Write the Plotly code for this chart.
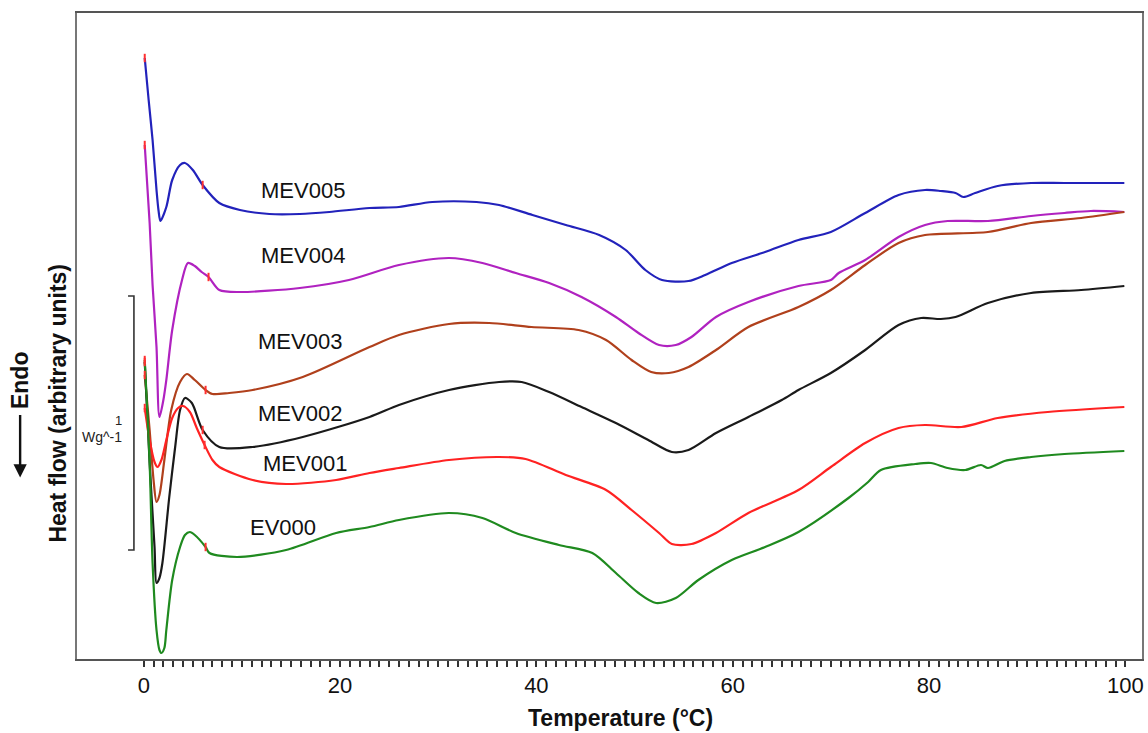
import plotly.graph_objects as go

# ---- data: temperature (°C) and heat flow (arbitrary units) ----
T_005 = [0.1, 0.5, 0.9, 1.3, 1.5, 1.7, 2.3, 2.9, 3.7, 4.2, 5.0, 6.0, 7.7, 9.8, 12.8, 15.9, 18.9, 23.0, 26.0, 29.4, 33.9, 36.2, 39.6, 43.0, 46.4, 49.1, 51.1, 52.8, 55.5, 57.2, 59.9, 63.3, 66.7, 70.0, 73.5, 76.9, 79.6, 81.2, 82.7, 83.5, 84.7, 87.0, 90.4, 93.8, 99.9]
Y_005 = [602, 560, 520, 470, 450, 439, 453, 480, 495, 497, 490, 475, 457, 450, 446, 446, 448, 452, 453, 458, 458, 455, 445, 435, 425, 410, 390, 380, 379, 385, 397, 408, 420, 428, 447, 465, 470, 469, 467, 463, 467, 474, 477, 477, 477]

T_004 = [0.1, 0.6, 0.9, 1.3, 1.6, 2.0, 2.3, 2.9, 3.9, 4.5, 5.2, 5.9, 6.6, 7.7, 9.8, 15.9, 20.9, 26.0, 31.1, 34.5, 37.9, 41.3, 44.6, 48.1, 50.4, 52.5, 54.2, 55.8, 58.3, 61.6, 66.7, 70.0, 70.8, 73.5, 76.9, 79.6, 81.9, 86.0, 90.4, 93.8, 96.5, 99.9]
Y_004 = [515, 437, 375, 313, 243, 260, 280, 330, 380, 397, 394, 388, 383, 370, 368, 372, 380, 395, 402, 397, 387, 377, 363, 343, 327, 315, 315, 323, 343, 358, 374, 380, 387, 400, 423, 435, 439, 439, 444, 447, 449, 448]

T_003 = [0.1, 0.6, 1.0, 1.3, 1.6, 2.1, 2.8, 3.7, 4.4, 5.2, 6.3, 7.0, 8.7, 11.1, 16.2, 23.0, 26.0, 31.1, 35.2, 39.5, 44.3, 47.1, 49.7, 51.7, 53.5, 55.5, 58.3, 61.6, 66.7, 70.0, 73.5, 76.9, 79.6, 86.0, 90.4, 95.5, 99.9]
Y_003 = [285, 230, 180, 158, 165, 200, 250, 278, 286, 280, 270, 266, 267, 270, 283, 313, 325, 336, 337, 333, 330, 320, 300, 288, 287, 293, 310, 333, 353, 370, 395, 417, 425, 428, 437, 442, 448]

T_002 = [0.1, 0.6, 1.1, 1.3, 1.6, 1.9, 2.6, 3.2, 3.7, 4.2, 4.9, 6.0, 7.7, 11.1, 16.2, 23.0, 26.0, 31.1, 36.2, 38.5, 41.3, 44.6, 48.1, 51.4, 53.8, 55.5, 58.3, 61.6, 65.0, 66.7, 70.0, 73.5, 76.9, 79.2, 81.2, 82.7, 86.0, 90.4, 95.5, 99.9]
Y_002 = [298, 197, 113, 77, 82, 97, 163, 213, 250, 262, 257, 230, 213, 213, 223, 243, 255, 270, 278, 278, 268, 253, 237, 220, 208, 210, 227, 243, 260, 270, 287, 310, 335, 342, 341, 343, 357, 367, 370, 374]

T_001 = [0.1, 0.6, 1.1, 1.4, 1.8, 2.3, 2.9, 3.5, 4.0, 4.7, 5.4, 6.2, 7.0, 7.7, 11.1, 14.5, 19.6, 23.0, 26.0, 31.1, 36.2, 38.9, 43.0, 47.1, 49.7, 52.5, 53.8, 55.8, 58.3, 61.6, 66.7, 70.0, 73.5, 76.9, 79.6, 83.3, 87.0, 92.1, 99.9]
Y_001 = [252, 220, 198, 193, 200, 220, 242, 252, 254, 248, 232, 215, 200, 193, 180, 176, 180, 187, 192, 200, 203, 201, 185, 170, 150, 127, 116, 116, 127, 147, 170, 193, 217, 232, 235, 233, 242, 248, 253]

T_000 = [0.1, 0.6, 0.9, 1.3, 1.6, 1.8, 2.1, 2.3, 2.9, 3.7, 4.2, 4.7, 5.2, 6.3, 6.7, 9.5, 14.5, 19.6, 23.0, 26.0, 31.1, 34.5, 37.9, 42.3, 45.7, 48.1, 50.4, 52.2, 54.2, 56.5, 59.9, 63.3, 66.7, 71.8, 73.8, 75.1, 78.6, 80.2, 81.9, 83.7, 85.3, 86.0, 87.7, 90.4, 93.8, 99.9]
Y_000 = [300, 197, 97, 30, 10, 7, 12, 30, 80, 113, 125, 128, 125, 113, 107, 103, 110, 127, 133, 140, 147, 142, 127, 115, 107, 87, 67, 57, 62, 80, 100, 113, 128, 162, 178, 190, 196, 197, 192, 190, 195, 192, 199, 203, 206, 209]

names = ["MEV005", "MEV004", "MEV003", "MEV002", "MEV001", "EV000"]
colors = ["#2222BB", "#B022C0", "#B0401C", "#1A1A1A", "#FF2222", "#1F8A1F"]
series = [(T_005, Y_005), (T_004, Y_004), (T_003, Y_003), (T_002, Y_002), (T_001, Y_001), (T_000, Y_000)]

# label anchor points (temperature, heat flow) for the sample names
label_T = [16.2, 16.2, 15.9, 15.9, 16.4, 14.2]
label_Y = [470, 405, 319, 247, 197, 133]

# scale bar: 1 W/g expressed in the plot's arbitrary units
scale_T = -1.0
scale_low, scale_high = 110, 364

xticks = [0, 20, 40, 60, 80, 100]
FONT = "Arial, Liberation Sans, Helvetica, sans-serif"

fig = go.Figure()
for (tx, ty), nm, col in zip(series, names, colors):
    fig.add_trace(go.Scatter(x=tx, y=ty, mode="lines", name=nm,
                             line=dict(color=col, width=2.2, shape="spline", smoothing=0.8),
                             showlegend=False, hoverinfo="skip"))

# small red segment markers (start of run and ~6 °C join) as in the reference
mx, my = [], []
for tx, ty in series:
    mx.append(tx[0]); my.append(ty[0])
    i = min(range(len(tx)), key=lambda k: abs(tx[k] - 6.3))
    mx.append(tx[i]); my.append(ty[i])
fig.add_trace(go.Scatter(x=mx, y=my, mode="markers", showlegend=False, hoverinfo="skip",
                         marker=dict(symbol="line-ns", size=6, line=dict(color="#FF3030", width=2))))

# sample labels
for nm, lt, ly in zip(names, label_T, label_Y):
    fig.add_annotation(x=lt, y=ly, xref="x", yref="y", text=nm, showarrow=False,
                       font=dict(family=FONT, size=22, color="#111"), xanchor="center", yanchor="middle")

# scale bar "]"
cap = 0.6
fig.add_shape(type="path", xref="x", yref="y",
              path=f"M {scale_T-cap},{scale_high} L {scale_T},{scale_high} L {scale_T},{scale_low} L {scale_T-cap},{scale_low}",
              line=dict(color="#333", width=1.6))
fig.add_annotation(x=-4.3, y=(scale_low + scale_high) / 2 - 14, xref="x", yref="y", text="Wg^-1",
                   showarrow=False, font=dict(family=FONT, size=14, color="#222"))
fig.add_annotation(x=-2.6, y=(scale_low + scale_high) / 2 + 3, xref="x", yref="y", text="1",
                   showarrow=False, font=dict(family=FONT, size=13, color="#222"))

# axis titles
fig.add_annotation(x=-0.0187, y=0.3955, xref="paper", yref="paper", text="<b>Heat flow (arbitrary units)</b>",
                   textangle=-90, showarrow=False, font=dict(family=FONT, size=23, color="#111"),
                   xanchor="center", yanchor="middle")
fig.add_annotation(x=-0.0534, y=0.432, xref="paper", yref="paper", text="<b>Endo</b>",
                   textangle=-90, showarrow=False, font=dict(family=FONT, size=23, color="#111"),
                   xanchor="center", yanchor="middle")
fig.add_annotation(x=-0.0534, y=0.281, xref="paper", yref="paper", text="", showarrow=True,
                   ax=0, ay=-64, arrowhead=2, arrowsize=1.1, arrowwidth=2.4, arrowcolor="#111")
fig.add_annotation(x=0.51, y=-0.091, xref="paper", yref="paper", text="<b>Temperature (°C)</b>",
                   showarrow=False, font=dict(family=FONT, size=23, color="#111"),
                   xanchor="center", yanchor="middle")

fig.update_layout(
    width=1148, height=733,
    margin=dict(l=77, r=4, t=13, b=74),
    paper_bgcolor="white", plot_bgcolor="white",
    font=dict(family=FONT, color="#111"),
    xaxis=dict(range=[-6.8, 101.7], tickvals=xticks, ticktext=[str(v) for v in xticks],
               ticks="outside", ticklen=6, tickwidth=2, tickcolor="#333",
               tickfont=dict(family=FONT, size=22, color="#111"),
               minor=dict(tickmode="array", tickvals=list(range(0, 101)), ticks="outside",
                          ticklen=6, tickwidth=2, tickcolor="#333"),
               showline=True, linecolor="#555", linewidth=2, mirror=True,
               showgrid=False, zeroline=False),
    yaxis=dict(range=[1, 647], showticklabels=False, ticks="", showgrid=False, zeroline=False,
               showline=True, linecolor="#777", linewidth=2, mirror=True),
)

fig.write_html("out.html")
